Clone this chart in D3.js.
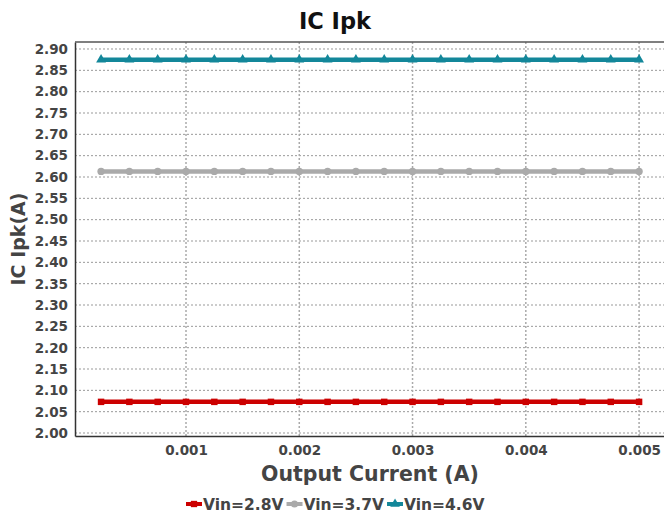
<!DOCTYPE html>
<html>
<head>
<meta charset="utf-8">
<script src="https://cdn.jsdelivr.net/npm/d3@7"></script>
<style>
body { margin:0; background:#fff; font-family:"DejaVu Sans", sans-serif; }
svg text { font-family:"DejaVu Sans", sans-serif; }
.grid line { stroke:#999; stroke-dasharray:2,2; }
.tick text { font-weight:bold; fill:#444; font-size:13.5px; }
</style>
</head>
<body>
<div id="chart"></div>
<script>
var currents = [0.00025,0.0005,0.00075,0.001,0.00125,0.0015,0.00175,0.002,0.00225,0.0025,
                0.00275,0.003,0.00325,0.0035,0.00375,0.004,0.00425,0.0045,0.00475,0.005];
var vin28 = [2.073,2.073,2.073,2.073,2.073,2.073,2.073,2.073,2.073,2.073,
             2.073,2.073,2.073,2.073,2.073,2.073,2.073,2.073,2.073,2.073];
var vin37 = [2.613,2.613,2.613,2.613,2.613,2.613,2.613,2.613,2.613,2.613,
             2.613,2.613,2.613,2.613,2.613,2.613,2.613,2.613,2.613,2.613];
var vin46 = [2.875,2.875,2.875,2.875,2.875,2.875,2.875,2.875,2.875,2.875,
             2.875,2.875,2.875,2.875,2.875,2.875,2.875,2.875,2.875,2.875];
var seriesNames = ["Vin=2.8V","Vin=3.7V","Vin=4.6V"];
var xTicks = [0.001,0.002,0.003,0.004,0.005];
var yTicks = [2.00,2.05,2.10,2.15,2.20,2.25,2.30,2.35,2.40,2.45,2.50,2.55,2.60,2.65,2.70,2.75,2.80,2.85,2.90];

var series = [
  { name: seriesNames[0], values: vin28, color: "#cc0000", symbol: d3.symbolSquare },
  { name: seriesNames[1], values: vin37, color: "#aaaaaa", symbol: d3.symbolCircle },
  { name: seriesNames[2], values: vin46, color: "#13879a", symbol: d3.symbolTriangle }
];

var margin = { top:42, left:75, right:0, bottom:77 };
var width = 664 - margin.left - margin.right;
var height = 513 - margin.top - margin.bottom;

var svg = d3.select("#chart").append("svg")
  .attr("width", 664).attr("height", 513);

var g = svg.append("g")
  .attr("transform", "translate(" + margin.left + "," + margin.top + ")");

var x = d3.scaleLinear().domain([0.00002, 0.00522]).range([0, width]);
var y = d3.scaleLinear().domain([1.993, 2.9164]).range([height, 0]);

// grid
g.append("g").attr("class", "grid")
  .selectAll("line").data(yTicks).enter().append("line")
  .attr("x1", 0).attr("x2", width)
  .attr("y1", function(d){ return y(d); }).attr("y2", function(d){ return y(d); });
g.append("g").attr("class", "grid")
  .selectAll("line").data(xTicks).enter().append("line")
  .attr("y1", 0).attr("y2", height)
  .attr("x1", function(d){ return x(d); }).attr("x2", function(d){ return x(d); })
  .style("stroke", "#aaa").style("stroke-width", 1.5);

// axes
var xAxis = g.append("g").attr("transform", "translate(0," + height + ")")
  .call(d3.axisBottom(x).tickValues(xTicks).tickSize(0).tickPadding(9).tickFormat(d3.format(".3f")));
xAxis.attr("font-family", null);
xAxis.select(".domain").attr("stroke", "#333").attr("stroke-width", 1.5);

var yAxis = g.append("g")
  .call(d3.axisLeft(y).tickValues(yTicks).tickSize(0).tickPadding(7).tickFormat(d3.format(".2f")));
yAxis.attr("font-family", null);
yAxis.select(".domain").attr("stroke", "#333").attr("stroke-width", 1.5);

g.append("line").attr("x1", 0).attr("x2", width).attr("y1", 0).attr("y2", 0)
  .attr("stroke", "#555").attr("stroke-width", 1.5);

// lines + markers
var line = d3.line()
  .x(function(d, i){ return x(currents[i]); })
  .y(function(d){ return y(d); });

series.forEach(function(s, k){
  g.append("path").datum(s.values)
    .attr("fill", "none").attr("stroke", s.color).attr("stroke-width", 4.5)
    .attr("d", line);
  g.append("g").selectAll("path").data(s.values).enter().append("path")
    .attr("transform", function(d, i){ return "translate(" + x(currents[i]) + "," + y(d) + ")"; })
    .attr("d", d3.symbol().type(s.symbol).size(42))
    .attr("fill", s.color);
});

// title and labels
svg.append("text").attr("x", 335).attr("y", 29).attr("text-anchor", "middle")
  .style("font-size", "22.5px").style("font-weight", "bold").style("fill", "#111").text("IC Ipk");
svg.append("text").attr("x", 370).attr("y", 481).attr("text-anchor", "middle")
  .style("font-size", "20.5px").style("font-weight", "bold").style("fill", "#444").text("Output Current (A)");
svg.append("text").attr("transform", "translate(25," + (margin.top + height / 2) + ") rotate(-90)")
  .attr("text-anchor", "middle")
  .style("font-size", "19px").style("font-weight", "bold").style("fill", "#444").text("IC Ipk(A)");

// legend
var legend = svg.append("g").attr("transform", "translate(186,504)");
var lx = 0;
series.forEach(function(s){
  var item = legend.append("g").attr("transform", "translate(" + lx + ",0)");
  item.append("line").attr("x1", 0).attr("x2", 16).attr("y1", 0).attr("y2", 0)
    .attr("stroke", s.color).attr("stroke-width", 4);
  item.append("path").attr("transform", "translate(8,0)")
    .attr("d", d3.symbol().type(s.symbol).size(40)).attr("fill", s.color);
  var t = item.append("text").attr("x", 17).attr("y", 5.5)
    .style("font-size", "15.5px").style("font-weight", "bold").style("fill", "#444").text(s.name);
  lx += 17 + t.node().getComputedTextLength() + 3;
});
</script>
</body>
</html>
